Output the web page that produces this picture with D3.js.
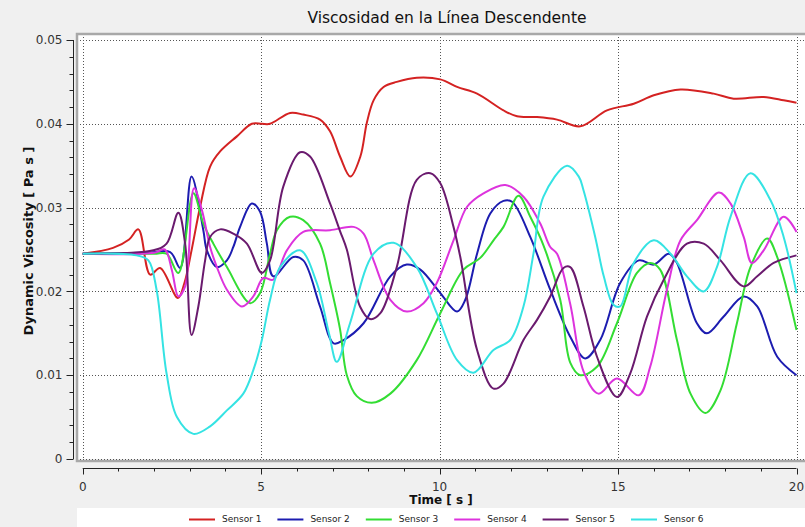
<!DOCTYPE html>
<html><head><meta charset="utf-8">
<script src="https://cdn.jsdelivr.net/npm/d3@7"></script>
<style>body{margin:0;background:#f0f0f0;}svg{display:block;}</style>
</head><body>
<svg id="c" width="805" height="527"></svg>
<script>
const title = "Viscosidad en la Línea Descendente";
const xLabel = "Time [ s ]";
const yLabel = "Dynamic Viscosity [ Pa s ]";
const seriesNames = ["Sensor 1","Sensor 2","Sensor 3","Sensor 4","Sensor 5","Sensor 6"];
const seriesColors = ["#d42222","#1c1cb0","#33dd33","#dd33dd","#6a1a6e","#35e3e3"];
const xTicks = [0,5,10,15,20];
const yTicks = [0,0.01,0.02,0.03,0.04,0.05];

const s1t = [0,0.85,1.3,1.56,1.89,2.17,2.67,2.85,3.05,3.29,3.57,3.85,4.32,4.74,5.02,5.25,5.81,6.18,6.65,6.93,7.21,7.5,7.78,7.96,8.15,8.43,8.8,9.36,10.02,10.49,11.05,11.79,12.17,12.73,13.29,13.94,14.69,15.44,16.0,16.75,17.68,18.24,19.08,19.64,20];
const s1v = [0.0245,0.0252,0.0262,0.0274,0.0220,0.0228,0.0192,0.0210,0.0249,0.0301,0.0349,0.0367,0.0385,0.0400,0.0400,0.0400,0.0413,0.0411,0.0405,0.0391,0.0361,0.0337,0.0361,0.0401,0.0428,0.0444,0.0450,0.0455,0.0453,0.0444,0.0436,0.0416,0.0409,0.0408,0.0405,0.0397,0.0416,0.0424,0.0434,0.0441,0.0436,0.0430,0.0432,0.0428,0.0425];

const s2t = [0,1.8,2.45,2.73,3.05,3.38,3.48,3.76,4.04,4.22,4.41,4.74,4.97,5.16,5.34,5.9,6.18,6.65,7.03,7.31,7.87,8.62,9.08,9.46,10.02,10.49,10.72,11.05,11.42,11.79,12.03,12.54,13.1,13.66,14.08,14.5,15.06,15.58,16.0,16.42,16.65,17.21,17.49,17.96,18.52,18.9,19.46,20];
const s2v = [0.0245,0.0246,0.0247,0.0228,0.0337,0.0273,0.0249,0.0229,0.0237,0.0253,0.0277,0.0305,0.0295,0.0257,0.0218,0.0241,0.0237,0.0182,0.0138,0.0142,0.0162,0.0218,0.0232,0.0226,0.0198,0.0176,0.0190,0.0245,0.0293,0.0308,0.0307,0.0265,0.0202,0.0146,0.0120,0.0142,0.0210,0.0237,0.0232,0.0245,0.0234,0.0162,0.0150,0.0170,0.0194,0.0182,0.0122,0.0100];

const s3t = [0,2.0,2.35,2.68,3.1,3.38,3.66,4.04,4.69,4.97,5.25,5.44,5.81,6.18,6.65,6.93,7.21,7.4,7.68,8.1,8.62,9.36,10.02,10.67,11.14,11.51,11.79,12.21,12.54,12.91,13.38,13.66,13.94,14.41,14.97,15.53,15.9,16.18,16.65,17.03,17.45,17.87,18.33,18.71,19.18,19.46,20];
const s3v = [0.0245,0.0245,0.0245,0.0222,0.0317,0.0281,0.0257,0.0229,0.0186,0.0198,0.0245,0.0273,0.0289,0.0285,0.0257,0.0210,0.0155,0.0100,0.0075,0.0067,0.0078,0.0118,0.0174,0.0226,0.0240,0.0261,0.0277,0.0314,0.0289,0.0255,0.0190,0.0115,0.0100,0.0110,0.0162,0.0222,0.0234,0.0226,0.0142,0.0078,0.0055,0.0082,0.0162,0.0229,0.0263,0.0241,0.0154];

const s4t = [0,2.0,2.3,2.5,2.68,2.87,3.12,3.34,3.57,3.76,4.04,4.46,4.78,5.06,5.34,5.72,6.18,6.93,7.59,7.87,8.15,8.62,9.08,9.55,9.92,10.39,10.77,11.23,11.84,12.35,12.82,13.1,13.29,13.66,14.03,14.45,14.97,15.58,15.9,16.37,16.75,17.21,17.82,18.15,18.52,18.75,19.08,19.64,20];
const s4v = [0.0245,0.0246,0.0250,0.0225,0.0194,0.0206,0.0323,0.0297,0.0253,0.0229,0.0202,0.0182,0.0194,0.0216,0.0214,0.0249,0.0271,0.0273,0.0277,0.0269,0.0237,0.0190,0.0176,0.0186,0.0210,0.0261,0.0301,0.0317,0.0327,0.0313,0.0281,0.0253,0.0245,0.0185,0.0105,0.0078,0.0096,0.0076,0.0110,0.0202,0.0261,0.0285,0.0318,0.0305,0.0265,0.0234,0.0249,0.0289,0.0271];

const s5t = [0,1.98,2.35,2.68,2.87,3.05,3.24,3.43,3.57,3.85,4.22,4.6,5.02,5.25,5.62,6.09,6.37,6.93,7.21,7.4,7.77,8.05,8.34,8.8,9.36,9.74,10.02,10.39,10.58,11.05,11.51,11.79,12.35,12.73,13.1,13.47,13.66,14.03,14.41,14.97,15.34,15.81,16.28,16.93,17.4,17.87,18.52,18.9,19.36,20];
const s5v = [0.0245,0.0249,0.0257,0.0294,0.0257,0.0148,0.0182,0.0237,0.0265,0.0274,0.0269,0.0257,0.0222,0.0237,0.0325,0.0366,0.0361,0.0305,0.0272,0.0250,0.0182,0.0167,0.0174,0.0229,0.0333,0.0341,0.0329,0.0277,0.0241,0.0130,0.0084,0.0090,0.0142,0.0166,0.0194,0.0228,0.0229,0.0182,0.0122,0.0074,0.0102,0.0170,0.0214,0.0257,0.0257,0.0237,0.0206,0.0218,0.0234,0.0243];

const s6t = [0,1.51,1.84,2.07,2.35,2.64,3.1,3.57,4.04,4.5,4.78,5.02,5.25,5.53,6.09,6.56,6.9,7.12,7.49,8.15,8.71,9.36,9.92,10.49,10.95,11.51,11.98,12.35,12.63,12.91,13.57,13.9,14.03,14.36,14.6,14.87,15.06,15.44,16.0,16.47,16.93,17.4,17.77,18.15,18.71,19.27,19.64,20];
const s6v = [0.0245,0.0243,0.0237,0.0202,0.0102,0.0050,0.0030,0.0039,0.0058,0.0078,0.0106,0.0142,0.0190,0.0229,0.0249,0.0210,0.0150,0.0116,0.0162,0.0245,0.0258,0.0229,0.0174,0.0118,0.0103,0.0130,0.0142,0.0182,0.0245,0.0313,0.0350,0.0337,0.0321,0.0265,0.0218,0.0184,0.0182,0.0234,0.0261,0.0245,0.0218,0.0200,0.0229,0.0289,0.0341,0.0309,0.0265,0.0198];

const seriesT = [s1t,s2t,s3t,s4t,s5t,s6t];
const seriesV = [s1v,s2v,s3v,s4v,s5v,s6v];

const svg = d3.select("#c");
const x = d3.scaleLinear().domain([0,20]).range([82.7,796.5]);
const y = d3.scaleLinear().domain([0,0.05]).range([459,40]);

svg.append("rect").attr("width",805).attr("height",527).attr("fill","#f0f0f0");

// plot frame
svg.append("rect").attr("x",77).attr("y",34).attr("width",740).attr("height",427)
  .attr("fill","#ffffff").attr("stroke","#a8a8a8").attr("stroke-width",2.5);

svg.append("defs").append("clipPath").attr("id","clip")
  .append("rect").attr("x",79).attr("y",36).attr("width",726).attr("height",424);

// grid
const grid = svg.append("g").attr("stroke","#555").attr("stroke-width",1).attr("stroke-dasharray","1,2");
yTicks.forEach(v=>{
  grid.append("line").attr("x1",80).attr("x2",805).attr("y1",Math.round(y(v))+0.5).attr("y2",Math.round(y(v))+0.5);
});
xTicks.forEach(t=>{
  grid.append("line").attr("y1",37).attr("y2",460).attr("x1",Math.round(x(t))+0.5).attr("x2",Math.round(x(t))+0.5);
});

// y axis
const yAxisG = svg.append("g").attr("transform","translate(73.5,0)");
yAxisG.append("line").attr("x1",0).attr("x2",0).attr("y1",y(0.05)).attr("y2",y(0)).attr("stroke","#222");
d3.range(0,0.0501,0.002).forEach((v,i)=>{
  const major = i%5===0;
  yAxisG.append("line").attr("x1",major?-7:-4).attr("x2",0)
    .attr("y1",Math.round(y(v))+0.5).attr("y2",Math.round(y(v))+0.5).attr("stroke","#222");
});
yTicks.forEach(v=>{
  yAxisG.append("text").attr("x",-11).attr("y",y(v)).attr("dy","0.35em")
    .attr("text-anchor","end").attr("font-family","DejaVu Sans").attr("font-size",12)
    .attr("fill","#333").text(d3.format("")(+v.toFixed(2)));
});

// x axis
const xAxisG = svg.append("g").attr("transform","translate(0,468.5)");
xAxisG.append("line").attr("x1",x(0)).attr("x2",x(20)).attr("y1",0).attr("y2",0).attr("stroke","#222");
d3.range(0,21,1).forEach(t=>{
  const major = t%5===0;
  xAxisG.append("line").attr("x1",Math.round(x(t))+0.5).attr("x2",Math.round(x(t))+0.5)
    .attr("y1",0).attr("y2",major?6:3).attr("stroke","#222");
});
xTicks.forEach(t=>{
  xAxisG.append("text").attr("x",x(t)).attr("y",18).attr("dy","0.35em")
    .attr("text-anchor","middle").attr("font-family","DejaVu Sans").attr("font-size",12)
    .attr("fill","#333").text(t);
});

// titles
svg.append("text").attr("x",447).attr("y",18).attr("dy","0.35em").attr("text-anchor","middle")
  .attr("font-family","DejaVu Sans").attr("font-size",15.5).attr("fill","#111").text(title);
svg.append("text").attr("x",441).attr("y",500).attr("dy","0.35em").attr("text-anchor","middle")
  .attr("font-family","DejaVu Sans").attr("font-weight","bold").attr("font-size",12).attr("fill","#111").text(xLabel);
svg.append("text").attr("transform","translate(28,241) rotate(-90)").attr("dy","0.35em").attr("text-anchor","middle")
  .attr("font-family","DejaVu Sans").attr("font-weight","bold").attr("font-size",13).attr("fill","#111").text(yLabel);

// lines
const line = d3.line().x(d=>x(d[0])).y(d=>y(d[1])).curve(d3.curveCatmullRom.alpha(0.5));
const lg = svg.append("g").attr("clip-path","url(#clip)");
seriesNames.forEach((n,i)=>{
  const pts = seriesT[i].map((t,j)=>[t,seriesV[i][j]]);
  lg.append("path").attr("d",line(pts)).attr("fill","none").attr("stroke",seriesColors[i])
    .attr("stroke-width",2).attr("stroke-linejoin","round");
});

// legend
svg.append("rect").attr("x",77).attr("y",508).attr("width",728).attr("height",19).attr("fill","#fff");
const leg = svg.append("g");
seriesNames.forEach((n,i)=>{
  const lx = 189 + i*88.4;
  leg.append("line").attr("x1",lx).attr("x2",lx+26).attr("y1",519.5).attr("y2",519.5)
    .attr("stroke",seriesColors[i]).attr("stroke-width",2);
  leg.append("text").attr("x",lx+33).attr("y",519).attr("dy","0.35em")
    .attr("font-family","DejaVu Sans").attr("font-size",9).attr("fill","#222").text(n);
});
</script>
</body></html>
